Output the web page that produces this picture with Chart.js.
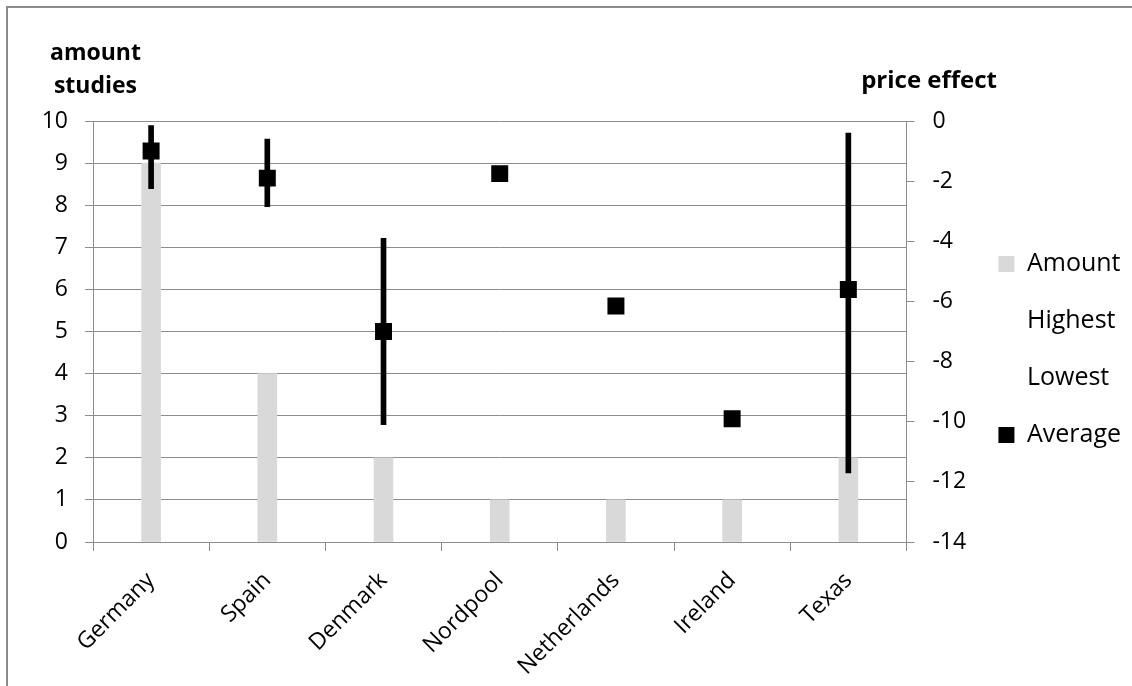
<!DOCTYPE html>
<html>
<head>
<meta charset="utf-8">
<script src="https://cdn.jsdelivr.net/npm/chart.js@4.4.1/dist/chart.umd.min.js"></script>
<style>
  html, body { margin: 0; padding: 0; background: #fff; }
  #wrap { position: relative; width: 1132px; height: 686px; overflow: hidden; font-family: "Open Sans", sans-serif; }
  #frame { position: absolute; left: 6px; top: 6px; width: 1200px; height: 800px; border-top: 2px solid #8c8c8c; border-left: 2px solid #8c8c8c; }
  canvas { position: absolute; left: 0; top: 0; }
  .axis-title { position: absolute; font-weight: bold; font-size: 23px; line-height: 33px; color: #000; }
</style>
</head>
<body>
<div id="wrap">
  <div id="frame"></div>
  <canvas id="chart" width="1132" height="686"></canvas>
  <div class="axis-title" style="left:40px; top:35px; width:111px; text-align:center;">amount<br>studies</div>
  <div class="axis-title" style="left:797px; top:62px; width:200px; text-align:right; font-size:24px;">price effect</div>
</div>
<script>
const categories = ["Germany", "Spain", "Denmark", "Nordpool", "Netherlands", "Ireland", "Texas"];
const amount = [9, 4, 2, 1, 1, 1, 2];
const highest = [-0.15, -0.6, -3.9, -1.75, -6.15, -9.9, -0.4];
const lowest = [-2.25, -2.85, -10.1, -1.75, -6.15, -9.9, -11.7];
const average = [-1.0, -1.9, -7.0, -1.75, -6.15, -9.9, -5.6];
const seriesNames = ["Amount", "Highest", "Lowest", "Average"];

const gridColor = "#8c8c8c";
const fontFamily = "'Open Sans', sans-serif";
const tickFont = { family: fontFamily, size: 23 };
const legendFont = { family: fontFamily, size: 25 };
const legendPad = 32;
const legendBox = 16;
const plotRight = 906;
const legendBoxX = 998;

// legend is clipped to its own box, so size the right axis and padding around it
let ctx = document.getElementById("chart").getContext("2d");
ctx.font = legendFont.size + "px " + fontFamily;
let textW = Math.max(...seriesNames.map(n => ctx.measureText(n).width));
let rightAxisW = legendBoxX - legendPad - plotRight;
let legendRoom = 1132 - plotRight - rightAxisW;
let legendW = Math.ceil(legendPad + legendBox + legendFont.size / 2 + textW + 10);
let padRight = Math.max(legendRoom - legendW, 0);

// vertical black line from lowest to highest, drawn as a thin floating bar
let range = highest.map((h, i) => [lowest[i], h]);

new Chart(document.getElementById("chart"), {
    type: "bar",
    data: {
        labels: categories,
        datasets: [
            { label: seriesNames[0], data: amount, yAxisID: "y", backgroundColor: "#d9d9d9",
              borderWidth: 0, barThickness: 19, grouped: false, order: 3 },
            { type: "line", label: seriesNames[1], data: highest, yAxisID: "y2", showLine: false,
              pointRadius: 0, backgroundColor: "transparent", borderColor: "transparent", order: 2 },
            { type: "line", label: seriesNames[2], data: lowest, yAxisID: "y2", showLine: false,
              pointRadius: 0, backgroundColor: "transparent", borderColor: "transparent", order: 2 },
            { type: "line", label: seriesNames[3], data: average, yAxisID: "y2", showLine: false,
              pointStyle: "rect", pointRadius: 12, pointHoverRadius: 12, backgroundColor: "#000",
              borderColor: "#000", borderWidth: 0, order: 0 },
            { label: "range", data: range, yAxisID: "y2", backgroundColor: "#000",
              borderWidth: 0, barThickness: 5, grouped: false, order: 1 }
        ]
    },
    options: {
        responsive: false,
        animation: false,
        layout: { padding: { top: 121, bottom: 0, left: 0, right: padRight } },
        plugins: {
            tooltip: { enabled: false },
            legend: {
                position: "right",
                fullSize: false,
                maxWidth: legendRoom - padRight,
                title: { display: true, text: "", padding: 0, font: { size: 30, lineHeight: 1.2 } },
                labels: {
                    font: legendFont,
                    color: "#000",
                    boxWidth: legendBox,
                    boxHeight: legendBox,
                    padding: legendPad,
                    filter: item => item.text !== "range",
                    sort: (a, b) => a.datasetIndex - b.datasetIndex
                }
            }
        },
        scales: {
            x: {
                grid: { drawOnChartArea: false, offset: true, tickLength: 9, color: gridColor },
                border: { color: gridColor },
                ticks: { font: tickFont, color: "#000", minRotation: 45, maxRotation: 45, autoSkip: false, padding: 16 },
                afterFit: s => { s.height = 144; }
            },
            y: {
                position: "left",
                min: 0,
                max: 10,
                ticks: { stepSize: 1, padding: 17, font: tickFont, color: "#000" },
                grid: { color: gridColor, tickLength: 8 },
                border: { color: gridColor },
                afterFit: s => { s.width = 93; }
            },
            y2: {
                position: "right",
                min: -14,
                max: 0,
                ticks: { stepSize: 2, padding: 18, font: tickFont, color: "#000" },
                grid: { drawOnChartArea: false, tickLength: 8, color: gridColor },
                border: { color: gridColor },
                afterFit: s => { s.width = rightAxisW; }
            }
        }
    }
});
</script>
</body>
</html>
